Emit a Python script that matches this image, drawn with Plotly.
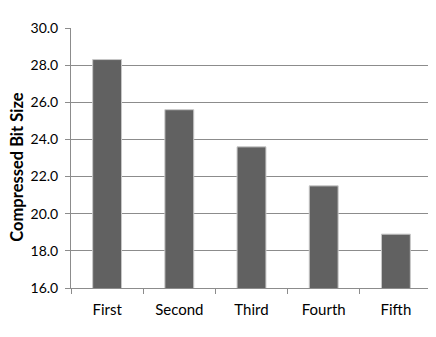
import plotly.graph_objects as go

categories = ["First", "Second", "Third", "Fourth", "Fifth"]
values = [28.3, 25.6, 23.6, 21.5, 18.9]
y_ticks = [16, 18, 20, 22, 24, 26, 28, 30]
y_title = "Compressed Bit Size"

fig = go.Figure(go.Bar(
    x=categories, y=values, width=0.4,
    marker=dict(color="#616161", line=dict(color="#c8c8c8", width=1)),
))

font = "Lato, 'Open Sans', sans-serif"
# page body has an 8px margin, so the figure is made 8px smaller and margins shifted
fig.update_layout(
    width=428, height=329,
    margin=dict(l=63, r=4, t=20, b=49),
    paper_bgcolor="white", plot_bgcolor="white",
    font=dict(family=font, color="#000000", size=13),
    showlegend=False,
    bargap=0.6,
)
fig.add_annotation(
    text="<b>" + y_title + "</b>", textangle=-90,
    xref="paper", yref="paper", x=-0.148, y=0.465,
    xanchor="center", yanchor="middle", showarrow=False,
    font=dict(size=16.5), borderpad=0,
)
fig.update_yaxes(
    range=[16, 30], tickvals=y_ticks, tickformat=".1f",
    showgrid=True, gridcolor="#8c8c8c", gridwidth=1,
    showline=True, linecolor="#8c8c8c", linewidth=1,
    ticks="outside", ticklen=5, tickcolor="#8c8c8c",
    tickfont=dict(size=14), ticklabelstandoff=4,
    zeroline=False,
)
fig.update_xaxes(
    showline=True, linecolor="#8c8c8c", linewidth=1,
    ticks="outside", ticklen=5, tickcolor="#8c8c8c", tickson="boundaries",
    tickfont=dict(size=15), ticklabelstandoff=8,
    showgrid=False,
)
fig.write_html("out.html")
